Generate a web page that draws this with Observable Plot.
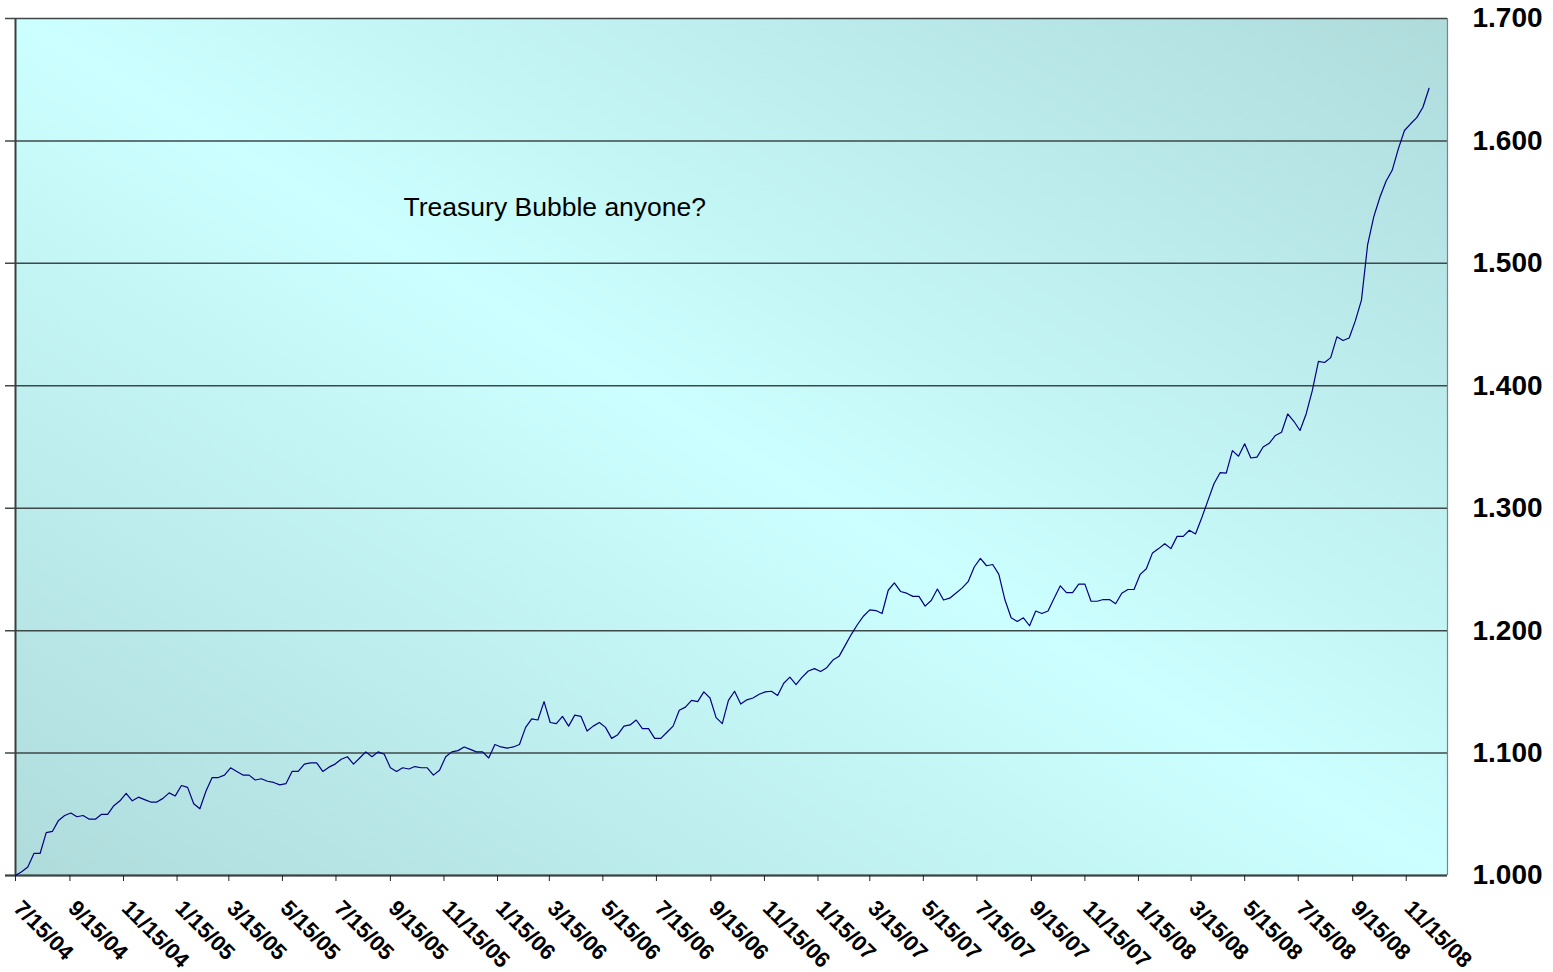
<!DOCTYPE html>
<html>
<head>
<meta charset="utf-8">
<script src="https://cdn.jsdelivr.net/npm/d3@7"></script>
<script src="https://cdn.jsdelivr.net/npm/@observablehq/plot@0.6"></script>
<style>
  html, body { margin: 0; padding: 0; background: #ffffff; }
  #chart svg { display: block; font-family: "Liberation Sans", Arial, sans-serif; }
</style>
</head>
<body>
<div id="chart"></div>
<script>
const seriesStart = "2004-07-15";
const values = [
  1.000, 1.003, 1.007, 1.018, 1.018, 1.035, 1.036, 1.045, 1.049, 1.051,
  1.048, 1.049, 1.046, 1.046, 1.050, 1.050, 1.057, 1.061, 1.067, 1.061,
  1.064, 1.062, 1.060, 1.060, 1.063, 1.0675, 1.065, 1.0735, 1.072, 1.0586,
  1.0545, 1.069, 1.080, 1.080, 1.082, 1.088, 1.085, 1.082, 1.082, 1.078,
  1.079, 1.077, 1.076, 1.074, 1.075, 1.085, 1.085, 1.091, 1.092, 1.092,
  1.085, 1.0885, 1.091, 1.095, 1.097, 1.091, 1.096, 1.101, 1.097, 1.101,
  1.099, 1.088, 1.085, 1.088, 1.087, 1.089, 1.088, 1.088, 1.082, 1.086,
  1.097, 1.101, 1.102, 1.105, 1.103, 1.101, 1.101, 1.096, 1.107, 1.105,
  1.104, 1.105, 1.107, 1.121, 1.128, 1.127, 1.142, 1.125, 1.124, 1.130,
  1.122, 1.131, 1.130, 1.118, 1.122, 1.125, 1.121, 1.112, 1.115, 1.122,
  1.123, 1.127, 1.120, 1.120, 1.112, 1.112, 1.117, 1.122, 1.135, 1.1375,
  1.143, 1.142, 1.150, 1.145, 1.129, 1.124, 1.143, 1.1505, 1.140, 1.1435,
  1.145, 1.148, 1.150, 1.1505, 1.147, 1.157, 1.162, 1.156, 1.162, 1.167,
  1.169, 1.1666, 1.1697, 1.176, 1.179, 1.188, 1.197, 1.205, 1.212, 1.217,
  1.2164, 1.214, 1.233, 1.239, 1.232, 1.2306, 1.228, 1.228, 1.220, 1.2246,
  1.234, 1.225, 1.2265, 1.2306, 1.2347, 1.240, 1.252, 1.259, 1.253, 1.254,
  1.246, 1.225, 1.2105, 1.2075, 1.2105, 1.204, 1.216, 1.214, 1.216, 1.2265,
  1.2366, 1.231, 1.231, 1.238, 1.238, 1.224, 1.224, 1.2254, 1.2254, 1.222,
  1.2306, 1.2336, 1.2336, 1.246, 1.2505, 1.2635, 1.267, 1.271, 1.267, 1.277,
  1.277, 1.282, 1.279, 1.292, 1.306, 1.320, 1.329, 1.3286, 1.347, 1.3425,
  1.3526, 1.341, 1.3417, 1.350, 1.353, 1.3594, 1.362, 1.377, 1.371, 1.3635,
  1.377, 1.396, 1.420, 1.419, 1.423, 1.440, 1.437, 1.439, 1.453, 1.470,
  1.515, 1.538, 1.554, 1.567, 1.576, 1.5935, 1.6085, 1.614, 1.619, 1.6275,
  1.643
];
// Axis tick labels (every two months)
const xTickLabels = [
  "7/15/04", "9/15/04", "11/15/04", "1/15/05", "3/15/05", "5/15/05", "7/15/05",
  "9/15/05", "11/15/05", "1/15/06", "3/15/06", "5/15/06", "7/15/06", "9/15/06",
  "11/15/06", "1/15/07", "3/15/07", "5/15/07", "7/15/07", "9/15/07", "11/15/07",
  "1/15/08", "3/15/08", "5/15/08", "7/15/08", "9/15/08", "11/15/08"
];
const yTicks = [1.0, 1.1, 1.2, 1.3, 1.4, 1.5, 1.6, 1.7];
const xDomain = ["2004-07-15", "2009-01-01"];
const annotation = [{date: "2005-09-30", value: 1.5456, label: "Treasury Bubble anyone?"}];

// Build table for the library
const parseMDY = s => { const [m, d, y] = s.split("/").map(Number); return new Date(Date.UTC(2000 + y, m - 1, d)); };
const start = new Date(seriesStart + "T00:00:00Z");
const data = values.map((v, i) => ({
  date: new Date(Date.UTC(start.getUTCFullYear(), start.getUTCMonth(), start.getUTCDate() + 7 * i)),
  value: v
}));
const xTicks = xTickLabels.map(parseMDY);
const labelOf = new Map(xTicks.map((d, i) => [+d, xTickLabels[i]]));
const xDom = xDomain.map(s => new Date(s + "T00:00:00Z"));
const ann = annotation.map(a => ({...a, date: new Date(a.date + "T00:00:00Z")}));

const chart = Plot.plot({
  width: 1553,
  height: 972,
  marginLeft: 15,
  marginRight: 106,
  marginTop: 18,
  marginBottom: 97,
  style: {background: "transparent", fontFamily: "'Liberation Sans', Arial, sans-serif", overflow: "visible"},
  x: {type: "utc", domain: xDom, label: null},
  y: {domain: [1.0, 1.7], label: null},
  marks: [
    Plot.frame({fill: "url(#bgGrad)", stroke: "none"}),
    // horizontal gridlines, extending slightly left of the axis like tick marks
    Plot.ruleY(yTicks, {stroke: "#3e4848", strokeWidth: 1.5, insetLeft: -10}),
    // left axis line
    Plot.ruleX([xDom[0]], {stroke: "#3a3f3f", strokeWidth: 2}),
    // right border
    Plot.ruleX([xDom[1]], {stroke: "#7a8484", strokeWidth: 1.2}),
    // bottom axis line
    Plot.ruleY([1.0], {stroke: "#3a4444", strokeWidth: 2.2, insetLeft: -10}),
    // x tick marks
    Plot.axisX(xTicks, {tickSize: 6, tickFormat: () => "", stroke: "#222", label: null}),
    // rotated x tick labels
    Plot.text(xTicks, {
      x: d => d, text: d => labelOf.get(+d),
      frameAnchor: "bottom", dx: 8, dy: 23, rotate: 45,
      textAnchor: "start", lineAnchor: "top",
      fontSize: 22, fontWeight: "bold", fill: "black"
    }),
    // y labels on the right
    Plot.axisY(yTicks, {
      anchor: "right", tickSize: 0, tickPadding: 25, label: null,
      tickFormat: d3.format(".3f"),
      fontSize: 28, fontWeight: "bold", fill: "black"
    }),
    Plot.lineY(data, {x: "date", y: "value", stroke: "#000080", strokeWidth: 1.2}),
    Plot.text(ann, {x: "date", y: "value", text: "label", textAnchor: "start", fontSize: 26.5, fill: "#000"})
  ]
});

const defs = document.createElementNS("http://www.w3.org/2000/svg", "defs");
defs.innerHTML = `<linearGradient id="bgGrad" x1="0" y1="1" x2="1" y2="0">
  <stop offset="0" stop-color="#afdbdb"/>
  <stop offset="0.5" stop-color="#ccffff"/>
  <stop offset="1" stop-color="#afdbdb"/>
</linearGradient>`;
chart.insertBefore(defs, chart.firstChild);
document.getElementById("chart").appendChild(chart);
</script>
</body>
</html>
